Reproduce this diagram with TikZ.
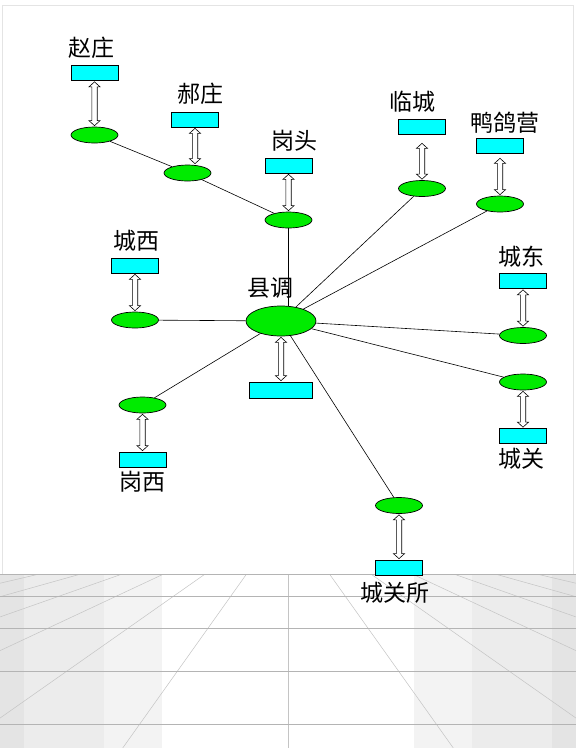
\documentclass[tikz,border=0pt]{standalone}
\usepackage{fontspec}
\usepackage{tikz}
\usetikzlibrary{shapes.geometric,calc}
\newfontfamily\cjk{Noto Sans CJK SC}
\definecolor{stngreen}{RGB}{0,235,0}
\definecolor{tagcyan}{RGB}{0,255,255}
\definecolor{floorA}{RGB}{228,228,228}
\definecolor{floorB}{RGB}{236,236,236}
\definecolor{floorC}{RGB}{243,243,243}
\definecolor{gridH}{RGB}{180,180,180}
\definecolor{gridR}{RGB}{196,196,196}
\tikzset{
  stn/.style={ellipse, draw, line width=0.7pt, fill=stngreen,
    minimum width=47pt, minimum height=16pt, inner sep=0pt},
  tag/.style={rectangle, draw, line width=0.7pt, fill=tagcyan,
    minimum width=47pt, minimum height=15pt, inner sep=0pt},
  lbl/.style={font=\cjk\fontsize{23}{23}\selectfont, inner sep=0pt},
  link/.style={draw, line width=0.6pt},
  updown/.style={draw, fill=white, line width=0.6pt,
    to path={let \p1=(\tikztostart), \p2=(\tikztotarget) in
      (\x1,\y1-1pt) -- (\x1+5.5pt,\y1-6pt) -- (\x1+2.7pt,\y1-6pt)
      -- (\x1+2.7pt,\y2+6pt) -- (\x1+5.5pt,\y2+6pt) -- (\x1,\y2+1pt)
      -- (\x1-5.5pt,\y2+6pt) -- (\x1-2.7pt,\y2+6pt) -- (\x1-2.7pt,\y1-6pt)
      -- (\x1-5.5pt,\y1-6pt) -- cycle}}
}

\begin{document}
\begin{tikzpicture}[x=1pt,y=-1pt]
\useasboundingbox (0,0) rectangle (576,748);
\fill[white] (0,0) rectangle (576,748);
\draw[floorA, line width=0.6pt] (2,574) -- (2,5) -- (573,5) -- (573,574);
% floor
\begin{scope}
\clip (0,574.3) rectangle (576,748);
\fill[floorA] (0,574.3) rectangle (24,748);
\fill[floorB] (24,574.3) rectangle (104,748);
\fill[floorC] (104,574.3) rectangle (162,748);
\fill[floorC] (414,574.3) rectangle (472,748);
\fill[floorB] (472,574.3) rectangle (552,748);
\fill[floorA] (552,574.3) rectangle (576,748);
\foreach \k in {-7,...,7}
  \draw[gridR, line width=0.5pt] (288+41.65*\k,574.3) -- (288+165.3*\k,748);
\foreach \y in {574.3,596.7,628.3,671.7,724.3}
  \draw[gridH, line width=0.8pt] (0,\y) -- (576,\y);
\end{scope}

% stations
\node[stn, minimum width=70pt, minimum height=30pt] (xd) at (281,321) {};
\node[tag, minimum width=63pt, minimum height=16pt] (xdbox) at (280.5,390) {};
\node[lbl] at (270,287.5) {县调};

\node[stn] (zz) at (94.5,135) {};
\node[tag] (zzbox) at (94.5,73) {};
\node[lbl] at (91.5,47.5) {赵庄};

\node[stn] (hz) at (187.5,173) {};
\node[tag] (hzbox) at (195,119.5) {};
\node[lbl] at (200,94) {郝庄};

\node[stn] (gt) at (288.5,220) {};
\node[tag] (gtbox) at (288.5,165.5) {};
\node[lbl] at (294,141) {岗头};

\node[stn] (lc) at (422,188.5) {};
\node[tag] (lcbox) at (422,126.5) {};
\node[lbl] at (412,102) {临城};

\node[stn] (yg) at (500,204) {};
\node[tag] (ygbox) at (500,145.5) {};
\node[lbl] at (505,123) {鸭鸽营};

\node[stn] (cd) at (523,335.5) {};
\node[tag] (cdbox) at (523,281) {};
\node[lbl] at (521,257) {城东};

\node[stn] (cg) at (523,382) {};
\node[tag] (cgbox) at (523,436) {};
\node[lbl] at (521,459) {城关};

\node[stn] (cx) at (135,320) {};
\node[tag] (cxbox) at (135,265.5) {};
\node[lbl] at (136,241) {城西};

\node[stn] (gx) at (142.5,405) {};
\node[tag] (gxbox) at (142.5,459.5) {};
\node[lbl] at (142,482) {岗西};

\node[stn] (gs) at (399,505.5) {};
\node[tag] (gsbox) at (399,567.5) {};
\node[lbl] at (395,593) {城关所};

% lines
\path[link]
  (zz) edge (hz)
  (hz) edge (gt)
  (gt.south) edge (gt.south |- xd.north)
  (xd) edge (lc)
  (xd) edge (yg)
  (xd) edge (cd)
  (xd) edge (cg)
  (xd) edge (cx)
  (xd) edge (gx)
  (xd) edge (gs);

% double arrows
\draw[updown] (zzbox.south) to (zz.north);
\draw[updown] (hzbox.south) to (hz.north);
\draw[updown] (gtbox.south) to (gt.north);
\draw[updown] ([yshift=-8pt]lcbox.south) to (lc.north);
\draw[updown] ([yshift=-4pt]ygbox.south) to (yg.north);
\draw[updown] (cdbox.south) to (cd.north);
\draw[updown] (cxbox.south) to (cx.north);
\draw[updown] (cg.south) to (cgbox.north);
\draw[updown] (gx.south) to (gxbox.north);
\draw[updown] (gs.south) to (gsbox.north);
\draw[updown] (xd.south) to (xdbox.north);
\end{tikzpicture}
\end{document}
